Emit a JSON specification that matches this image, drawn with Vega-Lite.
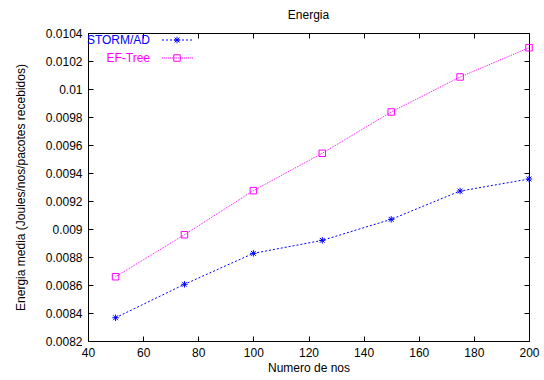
{
  "$schema": "https://vega.github.io/schema/vega-lite/v6.json",
  "width": 441,
  "height": 308,
  "autosize": "none",
  "padding": {"left": 88, "top": 33, "right": 15, "bottom": 39},
  "background": "white",
  "config": {
    "font": "Liberation Sans",
    "view": {"stroke": "black", "strokeWidth": 1},
    "axis": {
      "grid": true,
      "gridColor": "black",
      "gridOpacity": 1,
      "gridWidth": 1,
      "domain": false,
      "ticks": false,
      "labelFont": "Liberation Sans",
      "labelFontSize": 12,
      "labelColor": "black",
      "labelFlush": false,
      "labelOverlap": false,
      "titleFont": "Liberation Sans",
      "titleFontSize": 12,
      "titleFontWeight": "normal",
      "titleColor": "black",
      "labelPadding": 6
    }
  },
  "title": {"text": "Energia", "fontSize": 12, "fontWeight": "normal", "frame": "group", "offset": 5, "color": "black", "font": "Liberation Sans"},
  "data": {
    "values": [
      {"nodes": 50, "energia": 0.008366, "series": "STORM/AD"},
      {"nodes": 75, "energia": 0.008605, "series": "STORM/AD"},
      {"nodes": 100, "energia": 0.008826, "series": "STORM/AD"},
      {"nodes": 125, "energia": 0.008919, "series": "STORM/AD"},
      {"nodes": 150, "energia": 0.009069, "series": "STORM/AD"},
      {"nodes": 175, "energia": 0.009271, "series": "STORM/AD"},
      {"nodes": 200, "energia": 0.009357, "series": "STORM/AD"},
      {"nodes": 50, "energia": 0.008659, "series": "EF-Tree"},
      {"nodes": 75, "energia": 0.008959, "series": "EF-Tree"},
      {"nodes": 100, "energia": 0.009274, "series": "EF-Tree"},
      {"nodes": 125, "energia": 0.009541, "series": "EF-Tree"},
      {"nodes": 150, "energia": 0.009836, "series": "EF-Tree"},
      {"nodes": 175, "energia": 0.010086, "series": "EF-Tree"},
      {"nodes": 200, "energia": 0.010295, "series": "EF-Tree"}
    ]
  },
  "encoding": {
    "x": {
      "field": "nodes", "type": "quantitative",
      "scale": {"domain": [40, 200], "nice": false, "zero": false},
      "axis": {"values": [40, 60, 80, 100, 120, 140, 160, 180, 200], "gridDash": [5, 298], "title": "Numero de nos", "titlePadding": 4}
    },
    "y": {
      "field": "energia", "type": "quantitative",
      "scale": {"domain": [0.0082, 0.0104], "nice": false, "zero": false},
      "axis": {
        "values": [0.0082, 0.0084, 0.0086, 0.0088, 0.009, 0.0092, 0.0094, 0.0096, 0.0098, 0.01, 0.0102, 0.0104],
        "format": "~g",
        "gridDash": [5, 431],
        "title": "Energia media (Joules/nos/pacotes recebidos)",
        "titlePadding": 18
      }
    },
    "color": {
      "field": "series", "type": "nominal",
      "scale": {"domain": ["STORM/AD", "EF-Tree"], "range": ["#0000ff", "#ff00ff"]}
    }
  },
  "layer": [
    {
      "mark": {"type": "line", "strokeWidth": 1},
      "encoding": {
        "color": {
          "field": "series", "type": "nominal",
          "scale": {"domain": ["STORM/AD", "EF-Tree"], "range": ["#0000ff", "#ff00ff"]},
          "legend": {
            "title": null,
            "orient": "none",
            "legendX": 84,
            "legendY": 1,
            "padding": 0,
            "symbolType": "M-4,0L4,0",
            "symbolSize": 64,
            "symbolStrokeWidth": 1,
            "labelAlign": "right",
            "labelOffset": -34,
            "labelFontSize": 12,
            "labelFont": "Liberation Sans",
            "labelColor": {"expr": "datum.value === 'STORM/AD' ? '#0000ff' : '#ff00ff'"},
            "rowPadding": 6
          }
        },
        "strokeDash": {
          "field": "series", "type": "nominal",
          "scale": {"domain": ["STORM/AD", "EF-Tree"], "range": [[2, 2], [1, 1]]},
          "legend": {
            "title": null,
            "orient": "none",
            "legendX": 84,
            "legendY": 1,
            "padding": 0,
            "symbolType": "M-4,0L4,0",
            "symbolSize": 64,
            "symbolStrokeWidth": 1,
            "labelAlign": "right",
            "labelOffset": -34,
            "labelFontSize": 12,
            "labelFont": "Liberation Sans",
            "labelColor": {"expr": "datum.value === 'STORM/AD' ? '#0000ff' : '#ff00ff'"},
            "rowPadding": 6
          }
        }
      }
    },
    {
      "mark": {"type": "point", "filled": false, "strokeWidth": 1, "opacity": 1, "size": 42},
      "encoding": {
        "color": {
          "field": "series", "type": "nominal",
          "scale": {"domain": ["STORM/AD", "EF-Tree"], "range": ["#0000ff", "#ff00ff"]},
          "legend": null
        },
        "shape": {
          "field": "series", "type": "nominal",
          "scale": {"domain": ["EF-Tree", "STORM/AD"], "range": ["square", "M-1,0L1,0M0,-1L0,1M-0.75,-0.75L0.75,0.75M-0.75,0.75L0.75,-0.75"]},
          "legend": {
            "title": null,
            "orient": "none",
            "values": ["STORM/AD", "EF-Tree"],
            "legendX": 83,
            "legendY": 1,
            "padding": 0,
            "symbolSize": 42,
            "symbolStrokeWidth": 1,
            "symbolFillColor": "transparent",
            "symbolStrokeColor": {"expr": "datum.value === 'STORM/AD' ? '#0000ff' : '#ff00ff'"},
            "labelOpacity": 0,
            "labelFontSize": 12,
            "labelFont": "Liberation Sans",
            "rowPadding": 6
          }
        }
      }
    }
  ]
}
